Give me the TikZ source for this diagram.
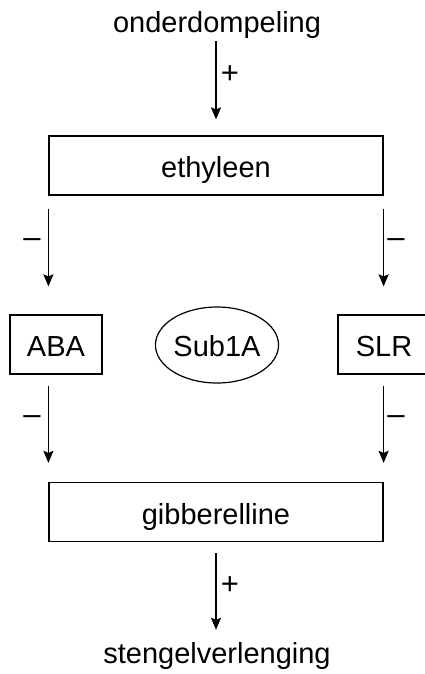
\documentclass[tikz,border=0pt]{standalone}
\usepackage{fontspec}
\setmainfont{Liberation Sans}
\usepackage{tikz}
\usetikzlibrary{arrows, arrows.meta}
\usetikzlibrary{shapes.geometric, positioning, calc}

\newcommand{\woordfont}{\fontsize{29}{32}\selectfont}
\newcommand{\tekenfont}{\fontsize{31}{32}\selectfont}

\tikzset{
  woord/.style={font=\woordfont, inner sep=0pt},
  blok/.style={draw, line width=1.2pt, font=\woordfont, inner sep=0pt,
    minimum width=334pt, minimum height=59pt, text height=24pt, text depth=0pt},
  kleinblok/.style={blok, minimum width=92pt},
  ovaal/.style={draw, ellipse, line width=1.2pt, font=\woordfont, inner sep=0pt,
    minimum width=97pt, minimum height=76pt, text height=23pt, text depth=0pt},
  pijl/.style={-{Stealth[length=12pt, width=10pt, inset=2pt]}, line width=1.6pt},
  teken/.style={font=\tekenfont, inner sep=0pt}
}

\begin{document}
\begin{tikzpicture}[x=1pt, y=-1pt]
        \useasboundingbox (0,0) rectangle (425,674);

        \node[woord, anchor=base] (onder) at (217, 33) {onderdompeling};
        \node[blok] (eth) at (216, 165.5) {ethyleen};
        \node[kleinblok] (aba) at (56, 344.5) {ABA};
        \node[ovaal] (sub) at (217, 345) {Sub1A};
        \node[kleinblok] (slr) at (384, 344.5) {SLR};
        \node[blok] (gib) at (216, 512) {gibberelline};
        \node[woord, anchor=base] (stengel) at (217, 663) {stengelverlenging};

        % pijlen
        \draw[pijl, shorten <=2pt, shorten >=16pt] (onder.south -| eth.north) -- (eth.north);
        \draw[pijl, shorten <=13pt, shorten >=28pt] (eth.south west) -- (aba.north -| eth.south west);
        \draw[pijl, shorten <=13pt, shorten >=28pt] (eth.south east) -- (slr.north -| eth.south east);
        \draw[pijl, shorten <=11pt, shorten >=19pt] (aba.south -| gib.north west) -- (gib.north west);
        \draw[pijl, shorten <=11pt, shorten >=19pt] (slr.south -| gib.north east) -- (gib.north east);
        \draw[pijl, shorten <=11pt, shorten >=12pt] (gib.south) -- (stengel.north -| gib.south);

        % tekens
        \node[teken] (plus1) at (230, 75) {+};
        \node[teken] (min1) at (32, 243) {–};
        \node[teken] (min2) at (396, 243) {–};
        \node[teken] (min3) at (32, 420) {–};
        \node[teken] (min4) at (396, 420) {–};
        \node[teken] (plus2) at (230, 586) {+};

\end{tikzpicture}
\end{document}
